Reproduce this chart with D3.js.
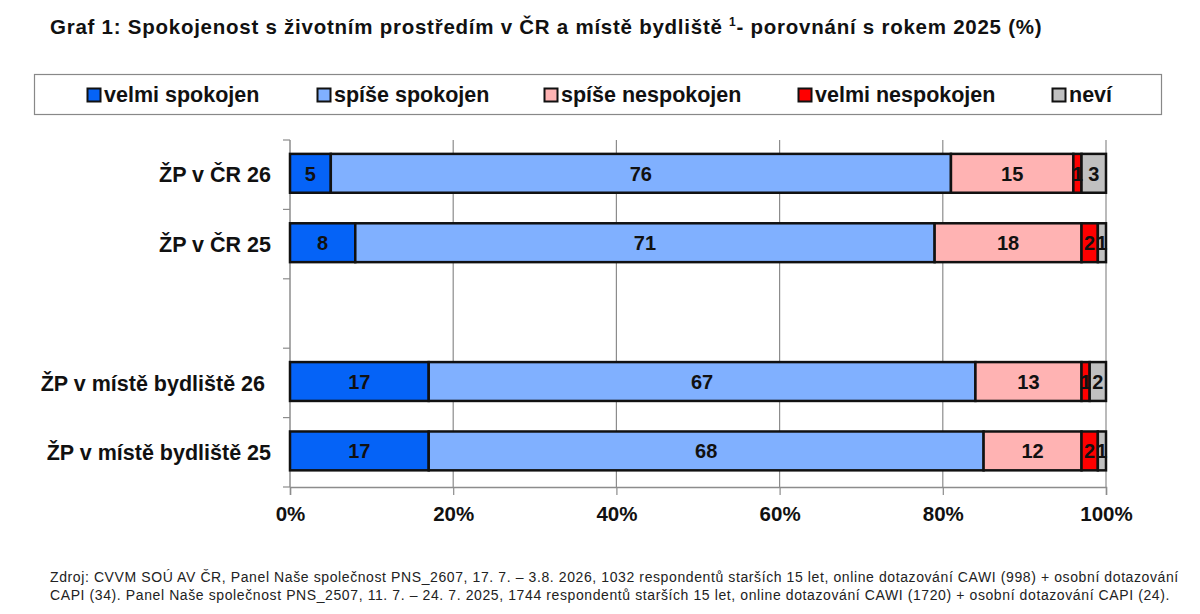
<!DOCTYPE html>
<html><head><meta charset="utf-8">
<script src="https://cdn.jsdelivr.net/npm/d3@7"></script>
<style>
html,body{margin:0;padding:0;background:#fff;}
svg{display:block;font-family:"Liberation Sans",Arial,sans-serif;}
</style></head>
<body>
<svg id="c" width="1200" height="614"></svg>
<script>
const categories = ["ŽP v ČR 26","ŽP v ČR 25"," ","ŽP v místě bydliště 26","ŽP v místě bydliště 25"];
const seriesNames = ["velmi spokojen","spíše spokojen","spíše nespokojen","velmi nespokojen","neví"];
const seriesColors = ["#0563F7","#80B0FF","#FFB3B3","#FF0000","#C0C0C0"];
const velmiSpokojen   = [5, 8, null, 17, 17];
const spiseSpokojen   = [76, 71, null, 67, 68];
const spiseNespokojen = [15, 18, null, 13, 12];
const velmiNespokojen = [1, 2, null, 1, 2];
const nevi            = [3, 1, null, 2, 1];
const xTicks = [0,20,40,60,80,100];
const title = "Graf 1: Spokojenost s životním prostředím v ČR a místě bydliště ";
const titleSup = "1";
const titleEnd = "- porovnání s rokem 2025 (%)";
const sourceLines = [
 "Zdroj: CVVM SOÚ AV ČR, Panel Naše společnost PNS_2607, 17. 7. – 3.8. 2026, 1032 respondentů starších 15 let, online dotazování CAWI (998) + osobní dotazování",
 "CAPI (34). Panel Naše společnost PNS_2507, 11. 7. – 24. 7. 2025, 1744 respondentů starších 15 let, online dotazování CAWI (1720) + osobní dotazování CAPI (24)."
];

const allSeries = [velmiSpokojen, spiseSpokojen, spiseNespokojen, velmiNespokojen, nevi];
const rows = categories.map((c,i)=>{
  const r = {cat:c};
  seriesNames.forEach((s,j)=>{ r[s] = allSeries[j][i] == null ? 0 : allSeries[j][i]; });
  r.empty = allSeries[0][i] == null;
  return r;
});

const svg = d3.select("#c");
const pL = 290, pR = 1106, pT = 140, pB = 487;
const x = d3.scaleLinear().domain([0,100]).range([pL,pR]);
const y = d3.scaleBand().domain(categories).range([pT,pB]);
const color = d3.scaleOrdinal().domain(seriesNames).range(seriesColors);

// title
const t = svg.append("text").attr("x",50).attr("y",34)
  .attr("font-size",20.5).attr("font-weight","bold").attr("letter-spacing",0.75).attr("fill","#111");
t.append("tspan").text(title);
t.append("tspan").attr("font-size",12).attr("dy",-8).text(titleSup);
t.append("tspan").attr("dy",8).text(titleEnd);

// legend
svg.append("rect").attr("x",34.5).attr("y",74.5).attr("width",1127).attr("height",40)
  .attr("fill","#fff").attr("stroke","#888").attr("stroke-width",1.2);
const legendX = [87,317,544,798,1052];
const lg = svg.append("g").selectAll("g").data(seriesNames).join("g")
  .attr("transform",(d,i)=>`translate(${legendX[i]},88)`);
lg.append("rect").attr("width",13).attr("height",13).attr("x",0.5).attr("y",0.5)
  .attr("fill",d=>color(d)).attr("stroke","#111").attr("stroke-width",2);
lg.append("text").attr("x",17).attr("y",14).attr("font-size",21.5).attr("font-weight","bold")
  .attr("fill","#111").text(d=>d);

// gridlines
svg.append("g").selectAll("line").data(xTicks.filter(v=>v>0)).join("line")
  .attr("x1",d=>x(d)).attr("x2",d=>x(d)).attr("y1",pT).attr("y2",pB)
  .attr("stroke","#8c8c8c").attr("stroke-width",1.2);

// x axis
const xAxis = d3.axisBottom(x).tickValues(xTicks).tickSize(8).tickFormat(d=>d+"%");
const gx = svg.append("g").attr("transform",`translate(0,${pB})`).call(xAxis);
gx.select(".domain").attr("stroke","#8c8c8c").attr("stroke-width",1.5);
gx.selectAll(".tick line").attr("stroke","#8c8c8c").attr("stroke-width",1.2);
gx.selectAll(".tick text").attr("font-size",20.5).attr("font-weight","bold")
  .attr("fill","#111").attr("dy","1.1em").attr("font-family","Liberation Sans, Arial, sans-serif");

// y axis line and ticks at band boundaries
const bounds = categories.map(c=>y(c)).concat([pB]);
svg.append("line").attr("x1",pL).attr("x2",pL).attr("y1",pT).attr("y2",pB)
  .attr("stroke","#8c8c8c").attr("stroke-width",1.5);
svg.append("g").selectAll("line").data(bounds).join("line")
  .attr("x1",pL-7).attr("x2",pL).attr("y1",d=>d).attr("y2",d=>d)
  .attr("stroke","#8c8c8c").attr("stroke-width",1.2);

// category labels
svg.append("g").selectAll("text").data(categories).join("text")
  .attr("x",(d,i)=>i===3?265:271).attr("y",d=>y(d)+y.bandwidth()/2).attr("dy","0.36em")
  .attr("text-anchor","end").attr("font-size",21.5).attr("font-weight","bold")
  .attr("fill","#111").text(d=>d.trim());

// bars
const stack = d3.stack().keys(seriesNames)(rows.filter(r=>!r.empty));
const barH = y.bandwidth()*0.56, barOff = y.bandwidth()*0.2;
const layers = svg.append("g").selectAll("g").data(stack).join("g").attr("fill",d=>color(d.key));
layers.selectAll("rect").data(d=>d).join("rect")
  .attr("x",d=>x(d[0])).attr("width",d=>x(d[1])-x(d[0]))
  .attr("y",d=>y(d.data.cat)+barOff).attr("height",barH)
  .attr("stroke","#111").attr("stroke-width",2.5);
const lbl = svg.append("g").selectAll("g").data(stack).join("g");
lbl.selectAll("text").data(d=>d.map(v=>({v, key:d.key}))).join("text")
  .attr("x",d=>(x(d.v[0])+x(d.v[1]))/2)
  .attr("y",d=>y(d.v.data.cat)+barOff+barH/2).attr("dy","0.36em")
  .attr("text-anchor","middle").attr("font-size",20).attr("font-weight","bold")
  .attr("fill","#111").text(d=>d.v.data[d.key]);

// source
svg.append("g").selectAll("text").data(sourceLines).join("text")
  .attr("x",50).attr("y",(d,i)=>582+i*18).attr("font-size",14).attr("letter-spacing",0.6)
  .attr("fill","#222").text(d=>d);
</script>
</body></html>
